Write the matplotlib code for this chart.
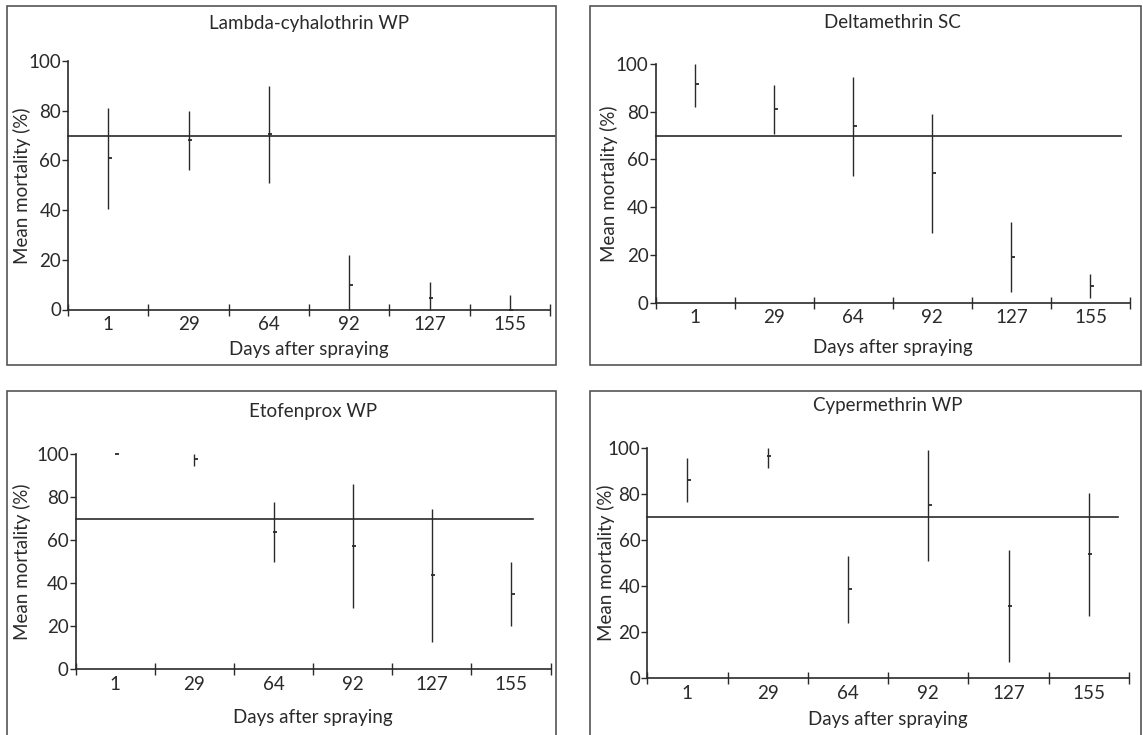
import matplotlib.pyplot as plt
from matplotlib.patches import Rectangle
import numpy as np

plt.rcParams['font.family'] = ['Lato', 'DejaVu Sans']

W, H = 1143, 735

days = ['1', '29', '64', '92', '127', '155']
threshold = 70

titles = ['Lambda-cyhalothrin WP', 'Deltamethrin SC', 'Etofenprox WP', 'Cypermethrin WP']

# mean mortality and range (low, high) per day
lambda_mean = [60.9, 68.2, 70.6, 9.8, 4.6, 0.0]
lambda_low = [40.4, 56.2, 50.9, 0.0, 0.0, 0.0]
lambda_high = [81.2, 79.9, 89.9, 22.0, 11.1, 5.9]

delta_mean = [91.5, 81.2, 74.2, 54.5, 19.2, 7.0]
delta_low = [82.0, 70.6, 53.2, 29.1, 4.3, 1.7]
delta_high = [100.0, 91.2, 94.7, 79.1, 33.8, 12.0]

etofen_mean = [100.0, 98.0, 63.9, 57.5, 44.0, 35.2]
etofen_low = [100.0, 94.4, 49.8, 28.7, 12.9, 20.2]
etofen_high = [100.0, 100.0, 77.7, 86.2, 74.4, 49.9]

cyper_mean = [86.1, 96.2, 38.7, 75.1, 31.5, 54.0]
cyper_low = [76.4, 91.0, 24.1, 51.0, 6.9, 27.0]
cyper_high = [95.4, 100.0, 53.2, 99.0, 55.5, 80.3]

means = [lambda_mean, delta_mean, etofen_mean, cyper_mean]
lows = [lambda_low, delta_low, etofen_low, cyper_low]
highs = [lambda_high, delta_high, etofen_high, cyper_high]

# layout in pixels: axes (left, right, y100, y0), box (left, top, right, bottom), hline end
axes_px = [(68, 550, 61, 309.5), (655.5, 1130, 64, 302.5),
           (75.8, 550.5, 454.3, 669.3), (647.2, 1129, 447.7, 678.3)]
boxes_px = [(7, 6, 556, 365), (590, 6, 1141, 365),
            (7, 391, 556, 740), (590, 391, 1141, 740)]
hline_end = [5.56, 5.39, 5.28, 5.36]
title_y = [24, 23, 412, 406]
xlabel_y = [350, 347, 718, 720]
ylabel_x = [22, 609, 22, 606]

ink = '#2a2a2a'
fs = 13.5


def fx(px):
    return px / W


def fy(py):
    return 1 - py / H


fig = plt.figure(figsize=(W / 100, H / 100), dpi=100)

for i in range(4):
    bl, bt, br, bb = boxes_px[i]
    fig.patches.append(Rectangle((fx(bl), fy(bb)), fx(br - bl), (bb - bt) / H,
                                 transform=fig.transFigure, fill=False,
                                 edgecolor='#555555', lw=1.2))

    l, r, t, b = axes_px[i]
    ax = fig.add_axes([fx(l), fy(b), fx(r - l), (b - t) / H])
    x = np.arange(len(days))

    ax.vlines(x, lows[i], highs[i], color=ink, lw=1.0, clip_on=False)
    ax.plot(x + 0.02, means[i], ls='none', marker='_', ms=3.5, mew=1.3,
            color=ink, clip_on=False)
    ax.plot([-0.5, hline_end[i]], [threshold, threshold], color=ink, lw=1.2,
            clip_on=False)

    ax.set_xlim(-0.5, len(days) - 0.5)
    ax.set_ylim(0, 100)
    for s in ['top', 'right']:
        ax.spines[s].set_visible(False)
    for s in ['left', 'bottom']:
        ax.spines[s].set_color(ink)
        ax.spines[s].set_linewidth(1.2)

    ax.set_xticks(np.arange(-0.5, len(days)), labels=[])
    ax.set_xticks(x, labels=days, minor=True)
    ax.tick_params(axis='x', which='major', direction='inout', length=8,
                   width=1, color=ink)
    ax.tick_params(axis='x', which='minor', length=0, pad=5,
                   labelsize=fs, labelcolor=ink)
    ax.set_yticks([0, 20, 40, 60, 80, 100])
    ax.tick_params(axis='y', direction='out', length=4, width=1, color=ink,
                   pad=1, labelsize=fs, labelcolor=ink)

    cx = (l + r) / 2
    fig.text(fx(cx), fy(title_y[i]), titles[i], ha='center', va='center',
             fontsize=fs, color=ink)
    fig.text(fx(cx), fy(xlabel_y[i]), 'Days after spraying', ha='center',
             va='center', fontsize=fs, color=ink)
    fig.text(fx(ylabel_x[i]), fy((t + b) / 2), 'Mean mortality (%)',
             ha='center', va='center', rotation=90, fontsize=fs, color=ink)

fig.savefig('out.png', dpi=100)
